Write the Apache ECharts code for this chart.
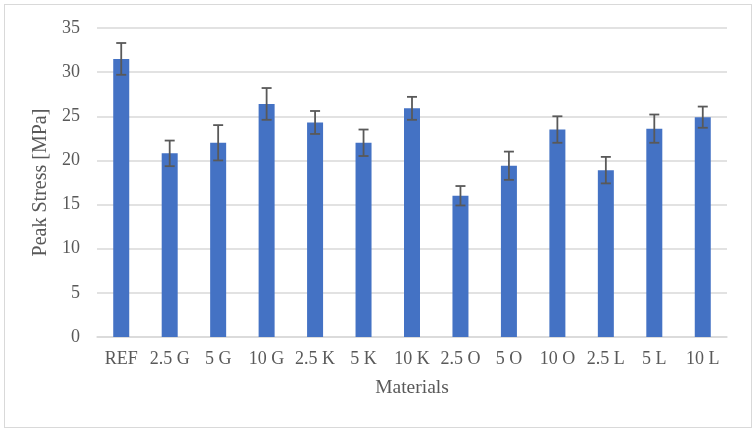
<!DOCTYPE html>
<html>
<head>
<meta charset="utf-8">
<script src="https://cdn.jsdelivr.net/npm/echarts@6/dist/echarts.min.js"></script>
<style>
  html, body { margin: 0; padding: 0; background: #fff; }
  #chart { width: 755px; height: 431px; }
  .frame { position: absolute; left: 4px; top: 4px; width: 746px; height: 422px; border: 1px solid #d9d9d9; pointer-events: none; }
</style>
</head>
<body>
<div id="chart"></div>
<div class="frame"></div>
<script>
const categories = ['REF', '2.5 G', '5 G', '10 G', '2.5 K', '5 K', '10 K', '2.5 O', '5 O', '10 O', '2.5 L', '5 L', '10 L'];
const peakStress = [31.5, 20.8, 22.0, 26.4, 24.3, 22.0, 25.9, 16.0, 19.4, 23.5, 18.9, 23.6, 24.9];
const errors = [1.8, 1.45, 2.0, 1.8, 1.3, 1.5, 1.3, 1.1, 1.6, 1.5, 1.5, 1.6, 1.2];
const yTicks = { min: 0, max: 35, interval: 5 };

const chart = echarts.init(document.getElementById('chart'));
const font = '"Liberation Serif", "Times New Roman", serif';

const errData = peakStress.map((v, i) => [i, v - errors[i], v + errors[i]]);

chart.setOption({
  animation: false,
  grid: { left: 97, right: 28, top: 28, bottom: 94 },
  xAxis: {
    type: 'category',
    data: categories,
    name: 'Materials',
    nameLocation: 'middle',
    nameGap: 41,
    nameTextStyle: { fontFamily: font, fontSize: 19.5, color: '#595959' },
    axisLine: { lineStyle: { color: '#d9d9d9', width: 1.5 } },
    axisTick: { show: false },
    axisLabel: { interval: 0, fontFamily: font, fontSize: 18, color: '#595959', margin: 13 }
  },
  yAxis: {
    type: 'value',
    min: yTicks.min,
    max: yTicks.max,
    interval: yTicks.interval,
    name: 'Peak Stress [MPa]',
    nameLocation: 'middle',
    nameGap: 41,
    nameTextStyle: { fontFamily: font, fontSize: 20, color: '#595959' },
    axisLine: { show: false },
    axisTick: { show: false },
    axisLabel: { fontFamily: font, fontSize: 18, color: '#595959', margin: 17 },
    splitLine: { lineStyle: { color: '#d9d9d9', width: 1.5 } }
  },
  series: [
    {
      type: 'bar',
      data: peakStress,
      barWidth: 16,
      itemStyle: { color: '#4472C4' }
    },
    {
      type: 'custom',
      data: errData,
      z: 10,
      renderItem: function (params, api) {
        const x = api.value(0);
        const lo = api.coord([x, api.value(1)]);
        const hi = api.coord([x, api.value(2)]);
        const hw = 5;
        const style = { stroke: '#595959', lineWidth: 1.8 };
        return {
          type: 'group',
          children: [
            { type: 'line', shape: { x1: hi[0], y1: hi[1], x2: lo[0], y2: lo[1] }, style: style },
            { type: 'line', shape: { x1: hi[0] - hw, y1: hi[1], x2: hi[0] + hw, y2: hi[1] }, style: style },
            { type: 'line', shape: { x1: lo[0] - hw, y1: lo[1], x2: lo[0] + hw, y2: lo[1] }, style: style }
          ]
        };
      }
    }
  ]
});
</script>
</body>
</html>
